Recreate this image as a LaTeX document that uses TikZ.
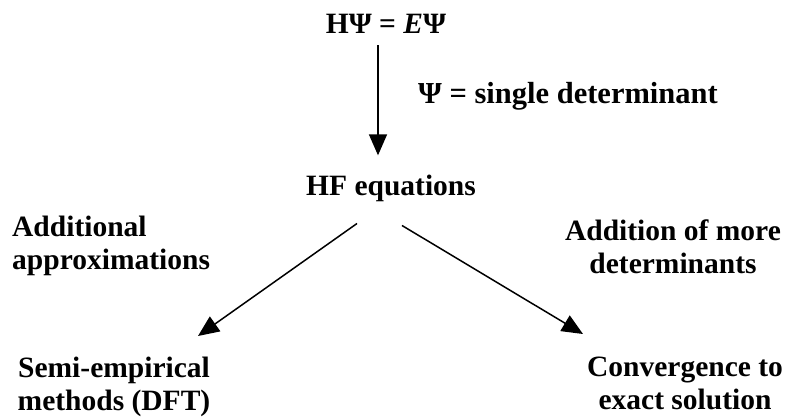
\documentclass[tikz,border=0pt]{standalone}
\usepackage{fontspec}
\setmainfont{Liberation Serif}
\usepackage{tikz}
\usetikzlibrary{arrows.meta}

\begin{document}
\begin{tikzpicture}[x=1pt,y=-1pt,lbl/.style={inner sep=0pt,font=\fontsize{29.5}{33}\selectfont\bfseries},arr/.style={line width=1.5pt,-{Triangle[width=18pt,length=21pt]}}]
\useasboundingbox (0,0) rectangle (795,416);
\node[lbl,anchor=base](schr) at(386,33) {HΨ = \textit{E}Ψ};
\node[lbl,anchor=base west,font=\fontsize{30.5}{34}\selectfont\bfseries](single) at(418,103) {Ψ = single determinant};
\node[lbl,anchor=base](hf) at(391,195) {HF equations};
\node[lbl,anchor=north west,align=left](approx) at(12,216) {Additional\\approximations};
\node[lbl,anchor=north,align=center](moredet) at(673,220) {Addition of more\\determinants};
\node[lbl,anchor=north,align=center](semi) at(114,357) {Semi-empirical\\methods (DFT)};
\node[lbl,anchor=north,align=center](conv) at(685,357) {Convergence to\\exact solution};
\draw[arr] ([xshift=-8pt,yshift=-12pt]schr.south) -- ([xshift=-13pt,yshift=19pt]hf.north);
\draw[arr] ([xshift=-34pt,yshift=-22pt]hf.south) -- ([xshift=84pt,yshift=21pt]semi.north);
\draw[arr] ([xshift=11pt,yshift=-24pt]hf.south) -- ([xshift=-102pt,yshift=23pt]conv.north);
\end{tikzpicture}
\end{document}
